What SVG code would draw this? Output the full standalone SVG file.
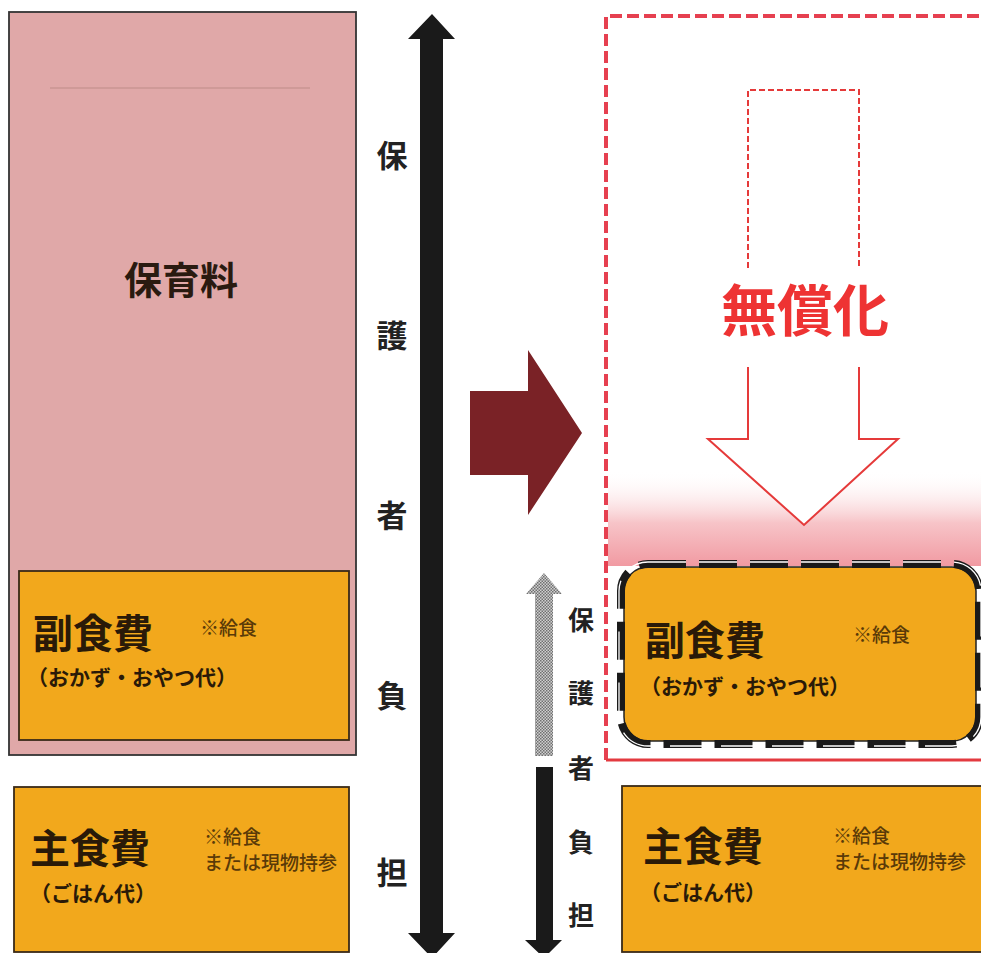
<svg xmlns="http://www.w3.org/2000/svg" width="981" height="953" viewBox="0 0 981 953">
<defs>
<style>
.jp{font-family:"Noto Sans CJK JP","Noto Sans CJK SC",sans-serif;font-weight:bold}
.big{font-size:40px;fill:#2a1a08}
.sub{font-size:21px;fill:#2a1a08}
.note{font-size:19px;fill:#5a3a08;font-weight:500}
.vt{font-size:31px;fill:#222;text-anchor:middle}
.vt2{font-size:26px;fill:#222;text-anchor:middle}
.orange{fill:#f2a81c;stroke:#3a2a18;stroke-width:1.8}
</style>
<linearGradient id="pinkfade" x1="0" y1="0" x2="0" y2="1">
<stop offset="0" stop-color="#ffffff" stop-opacity="0"/>
<stop offset="0.55" stop-color="#f7c4c8"/>
<stop offset="1" stop-color="#f19aa2"/>
</linearGradient>
<pattern id="check" width="3" height="3" patternUnits="userSpaceOnUse">
<rect width="3" height="3" fill="#d0d0d0"/>
<rect width="1.5" height="1.5" fill="#707070"/>
<rect x="1.5" y="1.5" width="1.5" height="1.5" fill="#707070"/>
</pattern>
</defs>
<rect width="981" height="953" fill="#ffffff"/>

<!-- left: before -->
<g id="hoikuryo">
<rect x="9" y="12" width="347" height="743" fill="#e0a8a8" stroke="#333" stroke-width="1.8"/>
<line x1="50" y1="88" x2="310" y2="88" stroke="#cf9a98" stroke-width="2"/>
<text class="jp" x="181" y="294" font-size="38" fill="#2a1a10" text-anchor="middle">保育料</text>
</g>
<g id="fukushokuhi-left">
<rect class="orange" x="19" y="571" width="330" height="169"/>
<text class="jp big" x="33" y="648">副食費</text>
<text class="jp note" x="200" y="635">※給食</text>
<text class="jp sub" x="27" y="685">（おかず・おやつ代）</text>
</g>
<g id="shushokuhi-left">
<rect class="orange" x="14" y="787" width="335" height="165"/>
<text class="jp big" x="30" y="863">主食費</text>
<text class="jp note" x="204" y="844">※給食</text>
<text class="jp note" x="204" y="870">または現物持参</text>
<text class="jp sub" x="30" y="901">（ごはん代）</text>
</g>
<g id="burden-left">
<polygon points="432,14 455,39 443,39 443,933 455,933 432,958 408,933 420,933 420,39 408,39" fill="#1a1a1a"/>
<text class="jp vt" x="392" y="167">保</text>
<text class="jp vt" x="392" y="347">護</text>
<text class="jp vt" x="392" y="527">者</text>
<text class="jp vt" x="392" y="707">負</text>
<text class="jp vt" x="392" y="884">担</text>
</g>

<!-- transition arrow -->
<g id="transition-arrow">
<polygon points="470,391 528,391 528,350 582,433 528,515 528,475 470,475" fill="#7a2226"/>
</g>

<!-- right: after -->
<g id="mushouka">
<rect x="608" y="470" width="373" height="96" fill="url(#pinkfade)"/>
<path d="M606,760 L606,16 L981,16" fill="none" stroke="#e64050" stroke-width="4" stroke-dasharray="12 5"/>
<line x1="606" y1="760" x2="981" y2="760" stroke="#e33a40" stroke-width="3"/>
<path d="M748,268 L748,90 L859,90 L859,268" fill="none" stroke="#e53a3a" stroke-width="2" stroke-dasharray="6 3"/>
<path d="M748,367 L748,439 L708,439 L804,525 L898,439 L859,439 L859,367" fill="#fff" stroke="#e53a3a" stroke-width="2"/>
<text class="jp" x="805" y="331" font-size="56" fill="#ee3333" text-anchor="middle">無償化</text>
</g>
<g id="fukushokuhi-right">
<rect x="624" y="567" width="352" height="174" rx="24" fill="#f2a81c" stroke="#222" stroke-width="1.5"/>
<rect x="621" y="564" width="358" height="180" rx="27" fill="none" stroke="#1a1a1a" stroke-width="8" stroke-dasharray="38 13"/>
<rect x="619" y="562" width="362" height="184" rx="29" fill="none" stroke="#ffffff" stroke-width="1.3" stroke-dasharray="38 13"/>
<text class="jp big" x="645" y="655">副食費</text>
<text class="jp note" x="853" y="642">※給食</text>
<text class="jp sub" x="640" y="694">（おかず・おやつ代）</text>
</g>
<g id="shushokuhi-right">
<rect class="orange" x="622" y="786" width="365" height="166"/>
<text class="jp big" x="643" y="861">主食費</text>
<text class="jp note" x="833" y="843">※給食</text>
<text class="jp note" x="833" y="869">または現物持参</text>
<text class="jp sub" x="640" y="900">（ごはん代）</text>
</g>
<g id="burden-right">
<polygon points="544,573 562,594 553,594 553,756 535,756 535,594 526,594" fill="url(#check)"/>
<polygon points="536,767 553,767 553,940 562,940 544,958 525,940 536,940" fill="#1a1a1a"/>
<text class="jp vt2" x="581" y="630">保</text>
<text class="jp vt2" x="581" y="703">護</text>
<text class="jp vt2" x="581" y="778">者</text>
<text class="jp vt2" x="581" y="852">負</text>
<text class="jp vt2" x="581" y="925">担</text>
</g>
</svg>
